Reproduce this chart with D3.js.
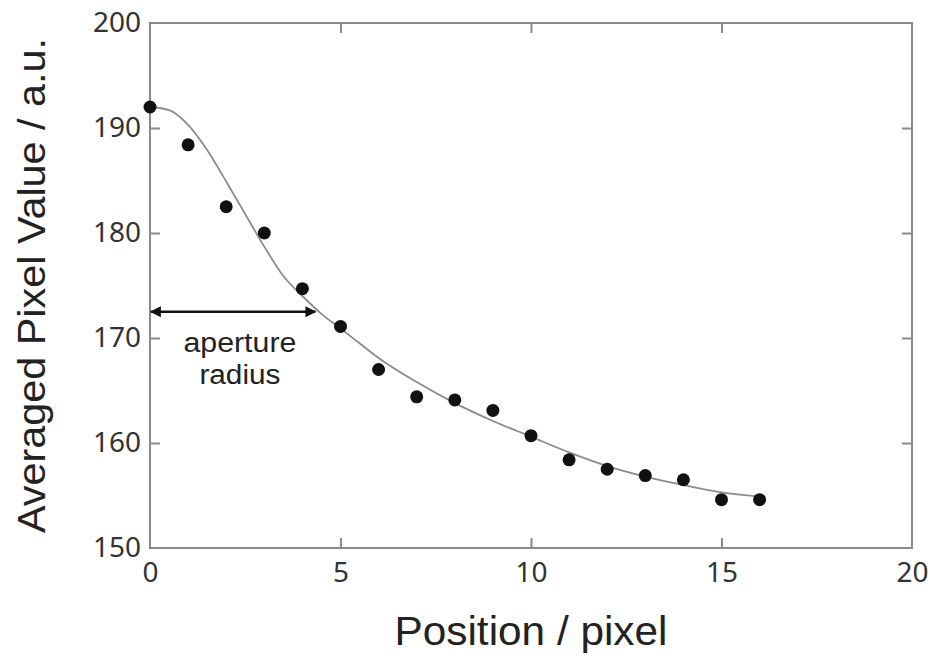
<!DOCTYPE html>
<html>
<head>
    <title>Averaged Pixel Value</title>
    <script src="https://d3js.org/d3.v7.min.js"></script>
    <style>
        body { margin: 0; background: #fff; }
        .tick text { font-family: "Noto Sans", sans-serif; fill: #333; }
    </style>
</head>
<body>
    <div id="chart"></div>

    <script>
        // Measured points
        var positions = [0, 1, 2, 3, 4, 5, 6, 7, 8, 9, 10, 11, 12, 13, 14, 15, 16];
        var pixelValues = [192.0, 188.4, 182.5, 180.0, 174.7, 171.1, 167.0, 164.4, 164.1, 163.1,
                           160.7, 158.4, 157.5, 156.9, 156.5, 154.6, 154.6];

        // Fitted curve
        var fitX = [0, 0.5, 1, 1.5, 2, 2.5, 3, 3.5, 4, 4.5, 5, 5.5, 6, 7, 8, 9, 10, 11, 12, 13, 14, 15, 16];
        var fitY = [192.0, 191.7, 190.3, 187.9, 184.9, 181.8, 178.7, 175.9, 174.0, 172.3, 170.9, 169.5,
                    168.1, 165.8, 163.8, 162.1, 160.6, 159.1, 157.8, 156.8, 156.0, 155.3, 154.9];

        // Aperture radius arrow
        var arrowX = [0, 4.34];
        var arrowY = 172.5;

        var xTicks = [0, 5, 10, 15, 20];
        var yTicks = [150, 160, 170, 180, 190, 200];

        var margin = { top: 23, right: 23, bottom: 110, left: 150 };
        var width = 935 - margin.left - margin.right;
        var height = 658 - margin.top - margin.bottom;

        var svg = d3.select("#chart")
            .append("svg")
            .attr("width", 935)
            .attr("height", 658)
            .append("g")
            .attr("transform", "translate(" + margin.left + "," + margin.top + ")");

        var x = d3.scaleLinear().domain([0, 20]).range([0, width]);
        var y = d3.scaleLinear().domain([150, 200]).range([height, 0]);

        var axisColor = "#8a8a8a";

        function styleAxis(g) {
            g.select(".domain").remove();
            g.selectAll(".tick line").attr("stroke", axisColor).attr("stroke-width", 2);
        }

        // bottom axis with labels
        svg.append("g")
            .attr("transform", "translate(0," + height + ")")
            .call(d3.axisBottom(x).tickValues(xTicks).tickSize(-10).tickPadding(14).tickFormat(d3.format("d")))
            .call(styleAxis)
            .call(function(g) {
                g.selectAll(".tick text").attr("font-size", 28);
                g.selectAll(".tick").filter(function(d) { return d === 0 || d === 20; }).select("line").remove();
            });

        // top axis (ticks only)
        svg.append("g")
            .call(d3.axisTop(x).tickValues([5, 10, 15]).tickSize(-10).tickFormat(""))
            .call(styleAxis);

        // left axis with labels
        svg.append("g")
            .call(d3.axisLeft(y).tickValues(yTicks).tickSize(-10).tickPadding(9).tickFormat(d3.format("d")))
            .call(styleAxis)
            .call(function(g) {
                g.selectAll(".tick text").attr("font-size", 28);
                g.selectAll(".tick").filter(function(d) { return d === 150 || d === 200; }).select("line").remove();
            });

        // right axis (ticks only)
        svg.append("g")
            .attr("transform", "translate(" + width + ",0)")
            .call(d3.axisRight(y).tickValues([160, 170, 180, 190]).tickSize(-10).tickFormat(""))
            .call(styleAxis);

        // frame
        svg.append("rect")
            .attr("width", width)
            .attr("height", height)
            .attr("fill", "none")
            .attr("stroke", axisColor)
            .attr("stroke-width", 2);

        // fitted curve
        var fitData = fitX.map(function(d, i) { return { x: d, y: fitY[i] }; });
        svg.append("path")
            .datum(fitData)
            .attr("fill", "none")
            .attr("stroke", "#8c8c8c")
            .attr("stroke-width", 1.8)
            .attr("d", d3.line()
                .x(function(d) { return x(d.x); })
                .y(function(d) { return y(d.y); })
                .curve(d3.curveMonotoneX));

        // data points
        svg.selectAll(".dot")
            .data(positions)
            .enter()
            .append("circle")
            .attr("class", "dot")
            .attr("cx", function(d) { return x(d); })
            .attr("cy", function(d, i) { return y(pixelValues[i]); })
            .attr("r", 6.5)
            .attr("fill", "#111");

        // arrow
        var defs = svg.append("defs");
        defs.append("marker")
            .attr("id", "head")
            .attr("viewBox", "0 0 10 10")
            .attr("refX", 9)
            .attr("refY", 5)
            .attr("markerWidth", 5)
            .attr("markerHeight", 4.4)
            .attr("markerUnits", "strokeWidth")
            .attr("orient", "auto-start-reverse")
            .append("path")
            .attr("d", "M0,0 L10,5 L0,10 z")
            .attr("fill", "#111");

        svg.append("line")
            .attr("x1", x(arrowX[0]) + 1)
            .attr("x2", x(arrowX[1]))
            .attr("y1", y(arrowY))
            .attr("y2", y(arrowY))
            .attr("stroke", "#111")
            .attr("stroke-width", 2.5)
            .attr("marker-start", "url(#head)")
            .attr("marker-end", "url(#head)");

        var note = svg.append("g")
            .attr("font-family", "Liberation Sans, Arial, sans-serif")
            .attr("font-size", 27)
            .attr("fill", "#222")
            .attr("text-anchor", "middle");
        note.append("text").attr("x", x(2.36)).attr("y", y(arrowY) + 40)
            .attr("textLength", 113).attr("lengthAdjust", "spacingAndGlyphs").text("aperture");
        note.append("text").attr("x", x(2.36)).attr("y", y(arrowY) + 72)
            .attr("textLength", 81).attr("lengthAdjust", "spacingAndGlyphs").text("radius");

        // axis titles
        svg.append("text")
            .attr("x", width / 2)
            .attr("y", height + 97)
            .attr("font-family", "Liberation Sans, Arial, sans-serif")
            .attr("font-size", 41)
            .attr("fill", "#222")
            .attr("text-anchor", "middle")
            .attr("textLength", 273)
            .attr("lengthAdjust", "spacingAndGlyphs")
            .text("Position / pixel");

        svg.append("text")
            .attr("transform", "translate(-105," + (285.5 - margin.top) + ") rotate(-90)")
            .attr("font-family", "Liberation Sans, Arial, sans-serif")
            .attr("font-size", 39)
            .attr("fill", "#222")
            .attr("text-anchor", "middle")
            .attr("textLength", 495)
            .attr("lengthAdjust", "spacingAndGlyphs")
            .text("Averaged Pixel Value / a.u.");
    </script>
</body>
</html>
